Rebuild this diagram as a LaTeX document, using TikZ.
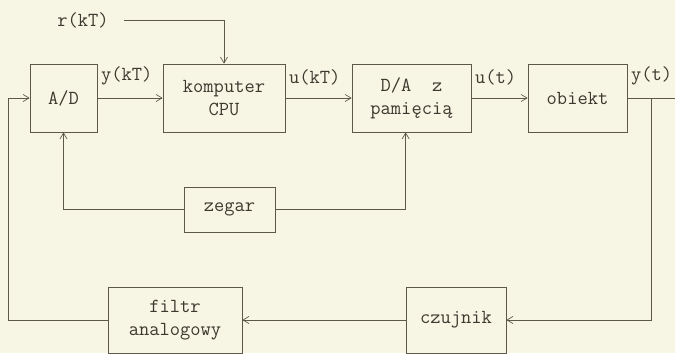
\documentclass[tikz,border=0pt]{standalone}
\usepackage{fontspec}
\usetikzlibrary{arrows.meta,positioning}
\definecolor{paper}{HTML}{F7F5E4}
\definecolor{ink}{HTML}{3E382F}
\definecolor{line}{HTML}{5E584C}

\begin{document}
\begin{tikzpicture}[x=0.03cm, y=-0.03cm,
  block/.style={draw=line, semithick, minimum height=2.04cm, align=center,
                font=\ttfamily\fontsize{17}{19.5}\selectfont, text=ink, inner sep=2pt},
  sig/.style={font=\ttfamily\fontsize{17}{19.5}\selectfont, text=ink, inner sep=1pt},
  conn/.style={line, semithick, -{Straight Barb[length=5pt,width=6pt]}},
  wire/.style={line, semithick}
]
  \fill[paper] (0,0) rectangle (675,353);
  \useasboundingbox (0,0) rectangle (675,353);

  % upper row
  \node[block, minimum width=2.01cm] (ad) at (63.5,98) {A/D};
  \node[block, minimum width=3.66cm] (cpu) at (224,98) {komputer\\CPU};
  \node[block, minimum width=3.57cm] (da) at (411.5,98) {D/A~~z\\pamięcią};
  \node[block, minimum width=2.97cm] (obj) at (577.5,98) {obiekt};

  % clock and feedback path
  \node[block, minimum width=2.73cm, minimum height=1.35cm] (clk) at (229.5,209.5) {zegar};
  \node[block, minimum width=4.02cm, minimum height=1.98cm] (flt) at (175,320) {filtr\\analogowy};
  \node[block, minimum width=3.0cm, minimum height=1.98cm] (sens) at (456,320) {czujnik};

  \node[sig] (ref) at (83,20) {r(kT)};
  \coordinate (out) at (675,98);
  \coordinate (br) at (651,98);
  \coordinate (fb) at (8,320);

  % signal labels
  \node[sig, anchor=south west] (lyk) at ([xshift=2pt,yshift=10pt]ad.east) {y(kT)};
  \node[sig, anchor=south west] (luk) at ([xshift=2pt,yshift=10pt]cpu.east) {u(kT)};
  \node[sig, anchor=south west] (lut) at ([xshift=2pt,yshift=10pt]da.east) {u(t)};
  \node[sig, anchor=south west] (lyt) at ([xshift=2pt,yshift=10pt]obj.east) {y(t)};

  \draw[conn] ([xshift=12pt]ref.east) -| (cpu.north);
  \draw[conn] (ad) -- (cpu); \draw[conn] (cpu) -- (da);
  \draw[conn] (da) -- (obj); \draw[wire] (obj.east) -- (out);
  \draw[conn] (br) |- (sens.east);
  \draw[conn] (sens) -- (flt);
  \draw[conn] (flt.west) -- (fb) |- (ad.west);
  \draw[conn] (clk.west) -| (ad.south);
  \draw[conn] (clk.east) -| ([xshift=-5pt]da.south);
\end{tikzpicture}
\end{document}
